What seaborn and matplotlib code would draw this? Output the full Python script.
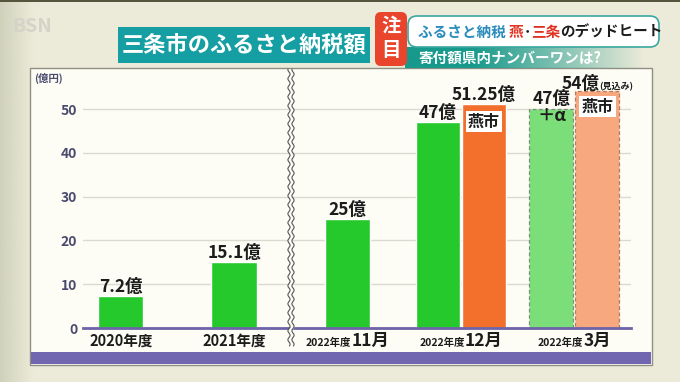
import numpy as np
import pandas as pd
import matplotlib
matplotlib.use("Agg")
import matplotlib.pyplot as plt
import seaborn as sns
from matplotlib.patches import Rectangle, FancyBboxPatch
from matplotlib.offsetbox import TextArea, HPacker, AnnotationBbox

# ---------------- data ----------------
categories = ["2020年度", "2021年度", "2022年度11月", "2022年度12月", "2022年度3月"]
label_year = ["", "", "2022年度", "2022年度", "2022年度"]
label_main = ["2020年度", "2021年度", "11月", "12月", "3月"]
sanjo_values = [7.2, 15.1, 25, 47, 50]
sanjo_labels = ["7.2億", "15.1億", "25億", "47億", "47億\n＋α"]
tsubame_categories = ["2022年度12月", "2022年度3月"]
tsubame_values = [51.25, 54]
tsubame_labels = ["51.25億", "54億"]
yticks = [0, 10, 20, 30, 40, 50]

GREEN, ORANGE = "#25c92c", "#f2702c"
LGREEN, LORANGE = "#7bde79", "#f7a87e"
TXT = "#1c1c1c"
AXTXT = "#4a4a6e"

sns.set_theme(style="white")
plt.rcParams['font.family'] = ['Noto Sans CJK JP', 'DejaVu Sans']

W, H = 680, 382
fig = plt.figure(figsize=(6.8, 3.82), dpi=100)
fig.patch.set_facecolor('#ecebd9')


def px_axes(z):
    a = fig.add_axes([0, 0, 1, 1], zorder=z)
    a.set_xlim(0, W)
    a.set_ylim(H, 0)
    a.axis('off')
    a.patch.set_alpha(0)
    return a


bg = px_axes(0)
# frame / background accents
bg.add_patch(Rectangle((0, 0), W, 2, fc="#55553e", ec="none"))
bgrad = np.zeros((1, 64, 4))
bgrad[0, :, :3] = matplotlib.colors.to_rgb("#c9cbb4")
bgrad[0, :, 3] = np.linspace(0.8, 0.0, 64)
bg.imshow(bgrad, extent=(0, 34, H, 0), aspect="auto")
bg.set_xlim(0, W)
bg.set_ylim(H, 0)
# panel
bg.add_patch(Rectangle((30, 68), 622, 297, fc="#fdfdf6", ec="#8f8f82", lw=1.0))
bg.add_patch(Rectangle((31, 352), 620, 11.5, fc="#7067b0", ec="none"))
bg.text(12, 27, "BSN", fontsize=14, color="#d3d3c8", fontweight="bold", va="center")
bg.text(34, 78, "(億円)", fontsize=7.5, color=AXTXT, fontweight="bold", va="center")

# ---------------- main axes ----------------
y_top = 56
ax_bottom_px, px_per_unit = 328, 4.38
ax_top_px = ax_bottom_px - y_top * px_per_unit
ax = fig.add_axes([83 / W, 1 - ax_bottom_px / H, (631 - 83) / W, (ax_bottom_px - ax_top_px) / H], zorder=1)
ax.patch.set_alpha(0)

df_single = pd.DataFrame({"cat": categories[:3], "val": sanjo_values[:3]})
df_dec = pd.DataFrame({"cat": [categories[3], tsubame_categories[0]],
                       "val": [sanjo_values[3], tsubame_values[0]],
                       "city": ["三条市", "燕市"]})
df_mar = pd.DataFrame({"cat": [categories[4], tsubame_categories[1]],
                       "val": [sanjo_values[4], tsubame_values[1]],
                       "city": ["三条市", "燕市"]})


def bars_since(n0):
    out = []
    for c in ax.containers[n0:]:
        out.extend([p for p in c if p.get_height() == p.get_height() and p.get_height() > 0])
    return out


n0 = len(ax.containers)
sns.barplot(data=df_single, x="cat", y="val", order=categories, color=GREEN,
            width=0.4, saturation=1, ax=ax, zorder=3)
single_bars = bars_since(n0)

n0 = len(ax.containers)
sns.barplot(data=df_dec, x="cat", y="val", hue="city", order=categories,
            hue_order=["三条市", "燕市"], palette=[GREEN, ORANGE], width=0.81,
            gap=0.04, saturation=1, legend=False, ax=ax, zorder=3)
dec_bars = sorted(bars_since(n0), key=lambda p: p.get_x())

n0 = len(ax.containers)
sns.barplot(data=df_mar, x="cat", y="val", hue="city", order=categories,
            hue_order=["三条市", "燕市"], palette=[LGREEN, LORANGE], width=0.81,
            gap=0.04, saturation=1, legend=False, ax=ax, zorder=3,
            linestyle=(0, (3, 2)), linewidth=0.9)
mar_bars = sorted(bars_since(n0), key=lambda p: p.get_x())
for b, ec in zip(mar_bars, ["#7f8f7f", "#b77a5a"]):
    b.set_edgecolor(ec)

ax.set_xlim(-0.333, 4.499)
ax.set_ylim(0, y_top)
ax.set_yticks(yticks)
ax.set_yticklabels([str(t) for t in yticks], fontsize=10, color=AXTXT, fontweight="bold")
ax.tick_params(axis="y", length=0, pad=4)
ax.tick_params(axis="x", length=0)
ax.set_xticks(range(len(categories)))
ax.set_xticklabels([""] * len(categories))
ax.set_xlabel("")
ax.set_ylabel("")
ax.grid(axis="y", color="#dadad0", lw=1.0, zorder=0)
ax.grid(axis="x", visible=False)
ax.set_axisbelow(True)
for s in ["top", "right", "left"]:
    ax.spines[s].set_visible(False)
ax.spines["bottom"].set_color("#6c63a8")
ax.spines["bottom"].set_linewidth(2.0)
ax.spines["bottom"].set_zorder(4)

# x labels
for i in range(len(categories)):
    parts = []
    if label_year[i]:
        parts.append(TextArea(label_year[i], textprops=dict(fontsize=7.5, fontweight="bold", color=TXT)))
        parts.append(TextArea(label_main[i], textprops=dict(fontsize=12.5, fontweight="bold", color=TXT)))
    else:
        parts.append(TextArea(label_main[i], textprops=dict(fontsize=10.5, fontweight="bold", color=TXT)))
    box = HPacker(children=parts, align="baseline", pad=0, sep=0)
    ab = AnnotationBbox(box, (i, 0), xycoords=("data", "axes fraction"), xybox=(0, -3),
                        boxcoords="offset points", box_alignment=(0.5, 1), frameon=False,
                        annotation_clip=False)
    ax.add_artist(ab)

sanjo_bars = single_bars + [dec_bars[0], mar_bars[0]]
tsubame_bars = [dec_bars[1], mar_bars[1]]

# value labels for Sanjo
for b, lab in zip(sanjo_bars, sanjo_labels):
    xc = b.get_x() + b.get_width() / 2
    top = b.get_height()
    if "\n" in lab:
        ax.annotate(lab, (xc, top), xytext=(0, 1), textcoords="offset points",
                    ha="center", va="center", fontsize=12.5, fontweight="bold",
                    color=TXT, linespacing=0.95, zorder=5)
    else:
        ax.annotate(lab, (xc, top), xytext=(0, 0), textcoords="offset points",
                    ha="center", va="bottom", fontsize=12.5, fontweight="bold",
                    color=TXT, zorder=5)

# Tsubame labels
b = tsubame_bars[0]
xc = b.get_x() + b.get_width() / 2
ax.annotate(tsubame_labels[0], (xc, b.get_height()), xytext=(0, 0), textcoords="offset points",
            ha="center", va="bottom", fontsize=12.5, fontweight="bold", color=TXT, zorder=5)
b = tsubame_bars[1]
xc = b.get_x() + b.get_width() / 2
box = HPacker(children=[TextArea(tsubame_labels[1], textprops=dict(fontsize=12.5, fontweight="bold", color=TXT)),
                        TextArea("(見込み)", textprops=dict(fontsize=6.5, fontweight="bold", color=TXT))],
              align="baseline", pad=0, sep=0)
ax.add_artist(AnnotationBbox(box, (xc, b.get_height()), xybox=(0, -1), boxcoords="offset points",
                             box_alignment=(0.5, 0), frameon=False, annotation_clip=False))
for b, off in zip(tsubame_bars, [-13, -11]):
    xc = b.get_x() + b.get_width() / 2
    ax.annotate("燕市", (xc, b.get_height()), xytext=(0, off), textcoords="offset points",
                ha="center", va="center", fontsize=11.5, fontweight="bold", color=TXT, zorder=6,
                bbox=dict(boxstyle="square,pad=0.15", fc="white", ec="none"))

# ---------------- foreground decorations ----------------
fg = px_axes(2)
yy = np.linspace(69, 346, 400)
x1 = 289 + 1.1 * np.sin(2 * np.pi * yy / 9)
x2 = x1 + 4
fg.fill_betweenx(yy, x1, x2, color="#fdfdf6", lw=0)
fg.plot(x1, yy, color="#555555", lw=0.8)
fg.plot(x2, yy, color="#555555", lw=0.8)

# title box
fg.add_patch(Rectangle((118, 27), 252, 36, fc="#169fa3", ec="none"))
fg.text(244, 45.5, "三条市のふるさと納税額", fontsize=16, fontweight="bold", color="white",
        ha="center", va="center")

# subtitle gradient bar
grad = np.zeros((1, 256, 4))
teal = matplotlib.colors.to_rgb("#17998c")
grad[0, :, :3] = teal
grad[0, :, 3] = np.clip(np.linspace(1.4, 0.0, 256), 0, 1)
fg.imshow(grad, extent=(405, 645, 68, 47), aspect="auto", zorder=1)
fg.set_xlim(0, W)
fg.set_ylim(H, 0)
fg.text(418, 58, "寄付額県内ナンバーワンは?", fontsize=10.5, fontweight="bold", color="white",
        va="center", zorder=3)

# white headline box
fg.add_patch(FancyBboxPatch((408, 16), 251, 31, boxstyle="round,pad=0,rounding_size=9",
                            fc="white", ec="#3aa7a0", lw=1.2, zorder=2))
parts = [("ふるさと納税 ", "#2a8cbc"), ("燕", "#e03222"), ("･", TXT), ("三条", "#e03222"),
         ("のデッドヒート", TXT)]
hb = HPacker(children=[TextArea(t, textprops=dict(fontsize=10.5, fontweight="bold", color=c))
                       for t, c in parts], align="baseline", pad=0, sep=0)
fg.add_artist(AnnotationBbox(hb, (418, 31.5), box_alignment=(0, 0.5), frameon=False, zorder=4))

# 注目 tag
fg.add_patch(FancyBboxPatch((375, 12), 32, 54, boxstyle="round,pad=0,rounding_size=6",
                            fc="#e8452c", ec="none", zorder=3))
fg.text(391, 26.5, "注", fontsize=14, fontweight="bold", color="white", ha="center", va="center", zorder=4)
fg.text(391, 50.5, "目", fontsize=14, fontweight="bold", color="white", ha="center", va="center", zorder=4)

fig.savefig("out.png", dpi=100, facecolor=fig.get_facecolor())
